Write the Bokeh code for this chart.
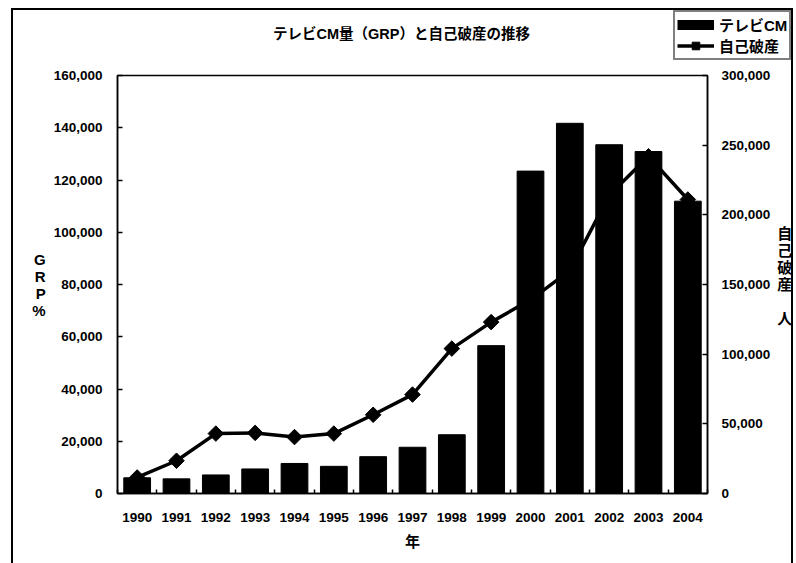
import numpy as np
from bokeh.plotting import figure
from bokeh.models import (LinearAxis, Range1d, FixedTicker, NumeralTickFormatter,
                          Legend, LegendItem, Label)
from bokeh.embed import file_html
from bokeh.resources import INLINE

# Yearly TV commercial volume (GRP) and personal bankruptcy filings
years = [1990, 1991, 1992, 1993, 1994, 1995, 1996, 1997,
         1998, 1999, 2000, 2001, 2002, 2003, 2004]
grp = [6000, 5600, 7100, 9400, 11500, 10400, 14100, 17700,
       22500, 56600, 123400, 141700, 133500, 130900, 111900]
bankruptcies = [11500, 23500, 43000, 43500, 40500, 43000, 56500, 71000,
                104000, 123000, 139000, 160000, 214000, 242000, 211000]

grp_ticks = [0, 20000, 40000, 60000, 80000, 100000, 120000, 140000, 160000]
people_ticks = [0, 50000, 100000, 150000, 200000, 250000, 300000]

title_text = "テレビCM量（GRP）と自己破産の推移"
bar_name = "テレビCM"
line_name = "自己破産"

FONT = "'Liberation Sans', 'Noto Sans CJK JP'"
BAR_STYLE = dict(fill_color="black", line_color="black")
LINE_STYLE = dict(line_width=3.5, color="black")
MARK_STYLE = dict(marker="square", size=11, angle=np.pi / 4,
                  fill_color="black", line_color="black")

HEAD_H = 65
BODY_H = 563 - HEAD_H

# chart-area border: two vertical rules plus a top rule in the header strip
RULE = "linear-gradient(#000, #000)"
body_frame = {"background-image": f"{RULE}, {RULE}",
              "background-size": "2px 100%, 2px 100%",
              "background-position": "11px 0px, 791px 0px",
              "background-repeat": "no-repeat"}
head_frame = {"background-image": f"{RULE}, {RULE}, {RULE}",
              "background-size": "2px 60px, 2px 60px, 782px 2px",
              "background-position": "11px 8px, 791px 8px, 11px 8px",
              "background-repeat": "no-repeat"}

# ---- header strip: title and legend ----
head = figure(width=796, height=HEAD_H, output_backend="svg", toolbar_location=None,
              x_range=Range1d(0, 1), y_range=Range1d(0, 1),
              x_axis_location=None, y_axis_location=None, title=None,
              min_border_left=0, min_border_right=0, min_border_top=0, min_border_bottom=0,
              styles=head_frame)
head.xgrid.visible = False
head.ygrid.visible = False
head.outline_line_color = None
head.background_fill_alpha = 0
head.border_fill_alpha = 0

# legend keys: the series styles, plotted outside this strip's view
key_bar = head.line(years, grp, line_width=10, color="black")
key_line = head.line(years, bankruptcies, **LINE_STYLE)
key_mark = head.scatter(years, bankruptcies, **MARK_STYLE)

head.add_layout(Label(x=401, y=HEAD_H - 33, x_units="screen", y_units="screen",
                      text=title_text, text_align="center", text_baseline="middle",
                      text_font=FONT, text_font_size="14.5px",
                      text_font_style="bold", text_color="black"))

legend = Legend(items=[LegendItem(label=bar_name, renderers=[key_bar]),
                       LegendItem(label=line_name, renderers=[key_line, key_mark])],
                location=(673, HEAD_H - 60), orientation="vertical",
                border_line_color="black", border_line_width=2,
                background_fill_color="white", background_fill_alpha=1,
                label_text_font=FONT, label_text_font_size="15px",
                label_text_font_style="bold", label_text_color="black",
                glyph_width=37, glyph_height=19, label_height=19,
                label_standoff=5, spacing=0, padding=2, margin=0)
head.add_layout(legend)

# ---- main chart ----
p = figure(width=796, height=BODY_H, output_backend="svg", toolbar_location=None,
           x_range=Range1d(1989.5, 2004.5), y_range=Range1d(0, 160000), title=None,
           min_border_left=117, min_border_right=89,
           min_border_top=75 - HEAD_H, min_border_bottom=70, styles=body_frame)
p.extra_y_ranges = {"people": Range1d(0, 300000)}
p.xgrid.visible = False
p.ygrid.visible = False
p.outline_line_color = "black"
p.outline_line_width = 1.5
p.background_fill_color = "white"
p.border_fill_alpha = 0

p.vbar(x=years, top=grp, width=0.68, **BAR_STYLE)
p.line(years, bankruptcies, y_range_name="people", **LINE_STYLE)
p.scatter(years, bankruptcies, y_range_name="people", **MARK_STYLE)


def style_axis(ax):
    ax.axis_line_color = "black"
    ax.axis_line_width = 1.5
    ax.major_label_text_font = FONT
    ax.major_label_text_font_size = "13.5px"
    ax.major_label_text_font_style = "bold"
    ax.major_label_text_color = "black"
    ax.axis_label_text_font = FONT
    ax.axis_label_text_font_size = "15px"
    ax.axis_label_text_font_style = "bold"
    ax.axis_label_text_color = "black"
    ax.axis_label_text_line_height = 1.0
    ax.major_tick_line_color = "black"
    ax.major_tick_line_width = 1.5
    ax.minor_tick_line_color = None


# left axis: GRP
ly = p.yaxis[0]
style_axis(ly)
ly.ticker = FixedTicker(ticks=grp_ticks)
ly.formatter = NumeralTickFormatter(format="0,0")
ly.major_tick_in = 5
ly.major_tick_out = 0
ly.major_label_standoff = 15
ly.axis_label = "G\nR\nP\n%"
ly.axis_label_orientation = "horizontal"
ly.axis_label_standoff = 5

# right axis: number of people
ry = LinearAxis(y_range_name="people")
style_axis(ry)
ry.ticker = FixedTicker(ticks=people_ticks)
ry.formatter = NumeralTickFormatter(format="0,0")
ry.major_tick_in = 5
ry.major_tick_out = 0
ry.major_label_standoff = 14
ry.axis_label = "自\n己\n破\n産\n\n人\n "
ry.axis_label_orientation = "horizontal"
ry.axis_label_standoff = 4
p.add_layout(ry, "right")

# bottom axis: years, ticks between categories
bx = p.xaxis[0]
style_axis(bx)
bx.ticker = FixedTicker(ticks=years, minor_ticks=[y - 0.5 for y in years] + [years[-1] + 0.5])
bx.major_tick_line_color = None
bx.minor_tick_line_color = "black"
bx.minor_tick_line_width = 1.5
bx.minor_tick_in = 4
bx.minor_tick_out = 0
bx.major_label_standoff = 13
bx.axis_label = "年"
bx.axis_label_standoff = 8

# header and chart are written as two stacked roots of one page
open("out.html", "w").write(file_html([head, p], INLINE))
